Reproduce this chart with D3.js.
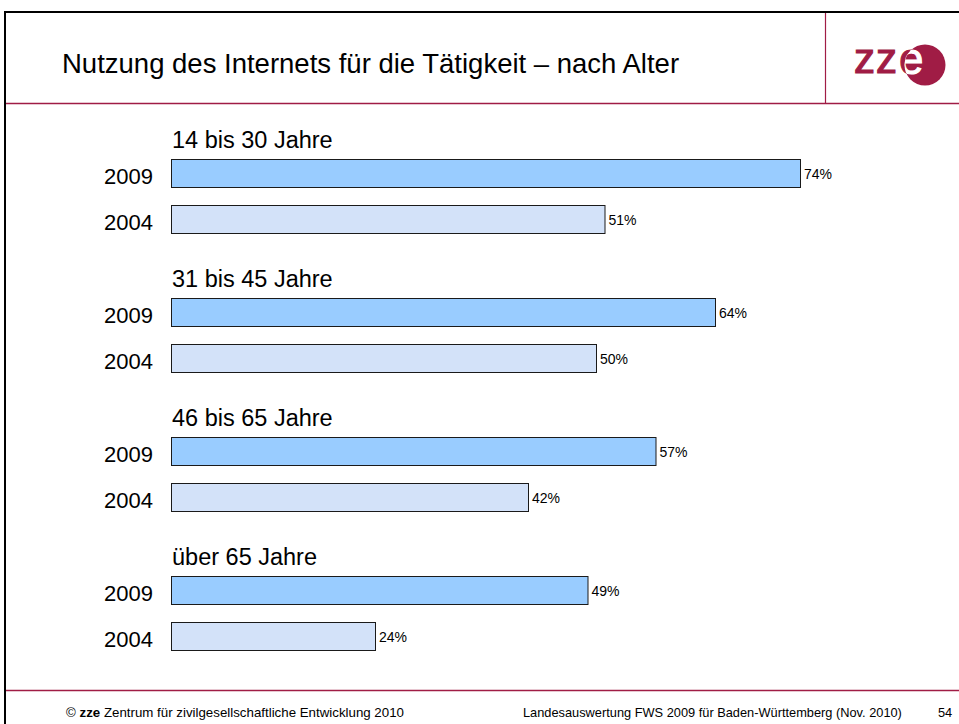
<!DOCTYPE html>
<html>
<head>
<meta charset="utf-8">
<script src="https://cdn.jsdelivr.net/npm/d3@7"></script>
<style>
  body { margin: 0; background: #fff; }
  svg { display: block; font-family: Arial, "Liberation Sans", sans-serif; }
</style>
</head>
<body>
<svg id="chart" width="959" height="724"></svg>
<script>
// data
const groups = ["14 bis 30 Jahre", "31 bis 45 Jahre", "46 bis 65 Jahre", "über 65 Jahre"];
const years = ["2009", "2004"];
const values2009 = [74, 64, 57, 49];
const values2004 = [51, 50, 42, 24];

const title = "Nutzung des Internets für die Tätigkeit – nach Alter";
const footerLeft = " Zentrum für zivilgesellschaftliche Entwicklung 2010";
const footerRight = "Landesauswertung FWS 2009 für Baden-Württemberg (Nov. 2010)";
const pageNo = "54";

const maroon = "#a01c45";
const colors = { "2009": "#99ccff", "2004": "#d3e2f9" };

const svg = d3.select("#chart");

// frame
svg.append("path")
    .attr("d", "M5,724 V12 H959")
    .attr("fill", "none").attr("stroke", "#000").attr("stroke-width", 2);
svg.append("line").attr("x1", 6).attr("x2", 959).attr("y1", 103.5).attr("y2", 103.5)
    .attr("stroke", maroon).attr("stroke-width", 1.5);
svg.append("line").attr("x1", 825.5).attr("x2", 825.5).attr("y1", 13).attr("y2", 103)
    .attr("stroke", maroon).attr("stroke-width", 1.2);
svg.append("line").attr("x1", 6).attr("x2", 959).attr("y1", 690.5).attr("y2", 690.5)
    .attr("stroke", maroon).attr("stroke-width", 1.5);

// title
svg.append("text")
    .attr("x", 62).attr("y", 73)
    .attr("font-size", 27.5).attr("fill", "#000")
    .text(title);

// logo
const logo = svg.append("g");
logo.append("text").attr("x", 854).attr("y", 73)
    .attr("font-size", 42).attr("fill", maroon)
    .attr("stroke", maroon).attr("stroke-width", 1.2)
    .attr("letter-spacing", 1)
    .text("zz");
svg.append("clipPath").attr("id", "logoCircle")
    .append("circle").attr("cx", 925).attr("cy", 65).attr("r", 20.5);
logo.append("circle").attr("cx", 925).attr("cy", 65).attr("r", 20.5).attr("fill", maroon);
logo.append("text").attr("x", 899).attr("y", 74)
    .attr("font-size", 44).attr("fill", maroon)
    .attr("stroke", maroon).attr("stroke-width", 1)
    .text("e");
logo.append("text").attr("x", 899).attr("y", 74)
    .attr("font-size", 44).attr("fill", "#fff")
    .attr("stroke", "#fff").attr("stroke-width", 1)
    .attr("clip-path", "url(#logoCircle)")
    .text("e");

// scales
const x = d3.scaleLinear().domain([0, 100]).range([171, 171 + 850]);
const yGroup = d3.scaleBand().domain(groups).range([120, 676]);
const yBar = d3.scaleBand().domain(years).range([39.5, 114.5]).paddingInner(0.39);

const rows = groups.map((g, i) => ({ group: g, bars: [
    { year: "2009", value: values2009[i] },
    { year: "2004", value: values2004[i] }
] }));

const gs = svg.selectAll("g.grp").data(rows).join("g")
    .attr("class", "grp")
    .attr("transform", d => `translate(0,${yGroup(d.group)})`);

gs.append("text")
    .attr("x", 172).attr("y", 27.5)
    .attr("font-size", 23.5).attr("fill", "#000")
    .text(d => d.group);

const bars = gs.selectAll("g.bar").data(d => d.bars).join("g").attr("class", "bar");

bars.append("rect")
    .attr("x", x(0) + 0.5)
    .attr("y", d => Math.round(yBar(d.year)) - 0.5)
    .attr("width", d => x(d.value) - x(0))
    .attr("height", Math.round(yBar.bandwidth()))
    .attr("fill", d => colors[d.year])
    .attr("stroke", "#1a1a1a").attr("stroke-width", 1);

bars.append("text")
    .attr("x", 153)
    .attr("y", d => yBar(d.year) + 24)
    .attr("text-anchor", "end")
    .attr("font-size", 22)
    .text(d => d.year);

bars.append("text")
    .attr("x", d => x(d.value) + 4)
    .attr("y", d => yBar(d.year) + 19)
    .attr("font-size", 14)
    .text(d => d.value + "%");

// footer
const fl = svg.append("text").attr("x", 66).attr("y", 717).attr("font-size", 13.3);
fl.append("tspan").text("© ");
fl.append("tspan").attr("font-weight", "bold").text("zze");
fl.append("tspan").text(footerLeft);
svg.append("text").attr("x", 523).attr("y", 717).attr("font-size", 12.8).text(footerRight);
svg.append("text").attr("x", 938).attr("y", 717).attr("font-size", 12.8).text(pageNo);
</script>
</body>
</html>
